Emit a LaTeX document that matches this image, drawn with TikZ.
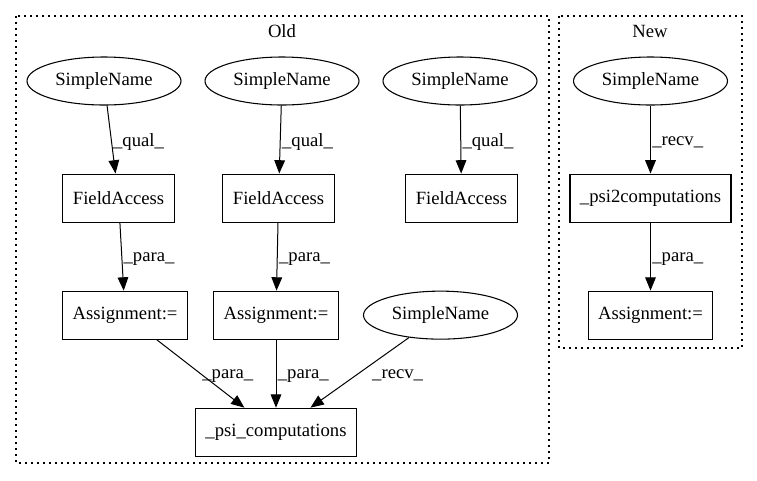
\documentclass[tikz,border=0pt]{standalone}
\usepackage{fontspec}
\setmainfont{Liberation Serif}
\usepackage{tikz}
\usetikzlibrary{shapes.geometric,arrows.meta,positioning}

\begin{document}
\begin{tikzpicture}[
  x=0.75pt, y=-0.75pt,
  node distance=51pt and 18pt,
  every node/.style={font=\fontsize{14}{16}\selectfont},
  sname/.style={draw, ellipse, minimum width=115.5pt, minimum height=36pt,
                inner sep=0pt, line width=0.8pt},
  box/.style={draw, rectangle, minimum height=36pt, inner xsep=7.5pt,
              line width=0.8pt},
  cluster/.style={line width=0.8pt, dash pattern=on 1.2pt off 3.3pt},
  arrow/.style={-{Triangle[length=10pt, width=8pt]}, line width=0.75pt},
  elabel/.style={right, inner sep=1pt, yshift=-2pt},
]
\useasboundingbox (0,0) rectangle (757,480);
% clusters
\draw[cluster] (16,16) rectangle (549,463);
\draw[cluster] (559,16) rectangle (742,348);
\node (oldlbl) at (282,31) {Old};
\node (newlbl) at (650,31) {New};
% old: three qualifier chains
\node[sname] (sn1) at (104,81) {SimpleName};
\node[box, below=of sn1, xshift=10.9pt] (fa1) {FieldAccess};
\node[box, below=of fa1, xshift=4.9pt] (as1) {Assignment:=};
\node[sname] (sn2) at (282,81) {SimpleName};
\node[box, below=of sn2, xshift=-2.6pt] (fa2) {FieldAccess};
\node[box, below=of fa2, xshift=-1.9pt] (as2) {Assignment:=};
\node[sname] (sn3) at (460,81) {SimpleName};
\node[box, below=of sn3, xshift=1.1pt] (fa3) {FieldAccess};
\node[sname, right=of as2] (sn4) {SimpleName};
\node[box, below=of as2] (psi) {\_psi\_computations};
% new
\node[sname] (sn5) at (650.5,81) {SimpleName};
\node[box, below=of sn5] (psi2) {\_psi2computations};
\node[box, below=of psi2] (as3) {Assignment:=};
% arrows
\draw[arrow] (sn1) -- (fa1) node[midway, elabel] {\_qual\_};
\draw[arrow] (sn2) -- (fa2) node[midway, elabel] {\_qual\_};
\draw[arrow] (sn3) -- (fa3) node[midway, elabel] {\_qual\_};
\draw[arrow] (fa1) -- (as1) node[midway, elabel] {\_para\_};
\draw[arrow] (fa2) -- (as2) node[midway, elabel] {\_para\_};
\draw[arrow] (as1) -- (psi) node[midway, elabel] {\_para\_};
\draw[arrow] (as2) -- (psi) node[midway, elabel] {\_para\_};
\draw[arrow] (sn4) -- (psi) node[midway, elabel, xshift=8pt] {\_recv\_};
\draw[arrow] (sn5) -- (psi2) node[midway, elabel] {\_recv\_};
\draw[arrow] (psi2) -- (as3) node[midway, elabel] {\_para\_};
\end{tikzpicture}
\end{document}
